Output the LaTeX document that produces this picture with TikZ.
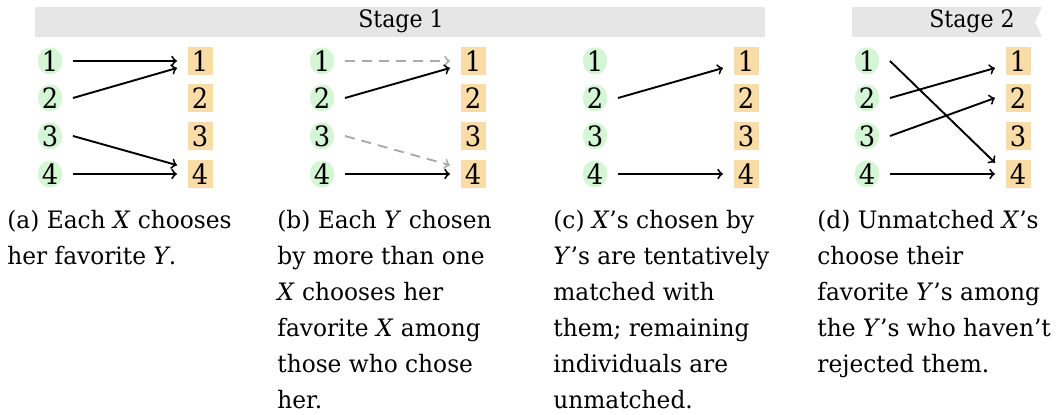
\documentclass[tikz,border=0pt]{standalone}
\usepackage{fontspec}
\setmainfont{DejaVu Serif}[FakeStretch=0.92]
\newfontfamily\capfont{DejaVu Serif}[FakeStretch=0.97]
\definecolor{xgreen}{RGB}{212,246,212}
\definecolor{yorange}{RGB}{250,220,168}
\definecolor{bannergray}{RGB}{230,230,230}
\definecolor{rejgray}{RGB}{170,170,170}
\tikzset{
  xnode/.style={fill=xgreen, rounded corners=6pt, minimum width=12pt, minimum height=13.5pt,
    inner sep=0pt, outer sep=5.5pt, font=\fontsize{14}{16}\selectfont},
  ynode/.style={fill=yorange, minimum width=12.5pt, minimum height=14pt,
    inner sep=0pt, outer sep=5.25pt, font=\fontsize{14}{16}\selectfont},
  pick/.style={->, line width=0.95pt, black},
  rej/.style={->, line width=0.95pt, rejgray, dash pattern=on 5pt off 3.5pt},
  captext/.style={anchor=base west, inner sep=0pt, font=\capfont\fontsize{12}{18}\selectfont},
  bannerfill/.style={fill=bannergray},
  stagelabel/.style={anchor=base, inner sep=0pt, font=\fontsize{12}{14}\selectfont}
}
\newcommand{\capbox}[1]{\parbox[t]{160pt}{\raggedright #1}}
\begin{document}
\begin{tikzpicture}[x=0.5pt, y=-0.5pt]
\useasboundingbox (0,0) rectangle (1060,415);
% banners
\fill[bannerfill] (35,7) rectangle (765,37);
\node[stagelabel] (s1) at (401,28) {Stage 1};
\fill[bannerfill] (852,7) -- (1042,7) -- (1035,22) -- (1042,37) -- (852,37) -- cycle;
\node[stagelabel] (s2) at (972,28) {Stage 2};
% nodes
\foreach \p/\xx/\yy in {a/50/200, b/322/473, c/595/746, d/867/1018} {
  \foreach \i/\r in {1/61, 2/98, 3/136, 4/174} {
    \node[xnode] (x\p\i) at (\xx,\r) {\i};
    \node[ynode] (y\p\i) at (\yy,\r) {\i};
  }
}
% (a)
\draw[pick] (xa1.east) -- (ya1.west);
\draw[pick] (xa2.east) -- (ya1.197);
\draw[pick] (xa3.east) -- (ya4.159);
\draw[pick] (xa4.east) -- (ya4.west);
% (b)
\draw[rej]  (xb1.east) -- (yb1.west);
\draw[pick] (xb2.east) -- (yb1.197);
\draw[rej]  (xb3.east) -- (yb4.159);
\draw[pick] (xb4.east) -- (yb4.west);
% (c)
\draw[pick] (xc2.east) -- (yc1.197);
\draw[pick] (xc4.east) -- (yc4.west);
% (d)
\draw[pick] (xd1.east) -- (yd4.154);
\draw[pick] (xd2.east) -- (yd1.197);
\draw[pick] (xd3.east) -- (yd2.west);
\draw[pick] (xd4.east) -- (yd4.west);
% captions
\node[captext] (capa) at (7,229) {\capbox{(a) Each \textit{X} chooses\\her favorite \textit{Y}.}};
\node[captext] (capb) at (277,229) {\capbox{(b) Each \textit{Y} chosen\\by more than one\\\textit{X} chooses her\\favorite \textit{X} among\\those who chose\\her.}};
\node[captext] (capc) at (553,229) {\capbox{(c) \textit{X}’s chosen by\\\textit{Y}’s are tentatively\\matched with\\them; remaining\\individuals are\\unmatched.}};
\node[captext] (capd) at (817,229) {\capbox{(d) Unmatched \textit{X}’s\\choose their\\favorite \textit{Y}’s among\\the \textit{Y}’s who haven’t\\rejected them.}};
\end{tikzpicture}
\end{document}
